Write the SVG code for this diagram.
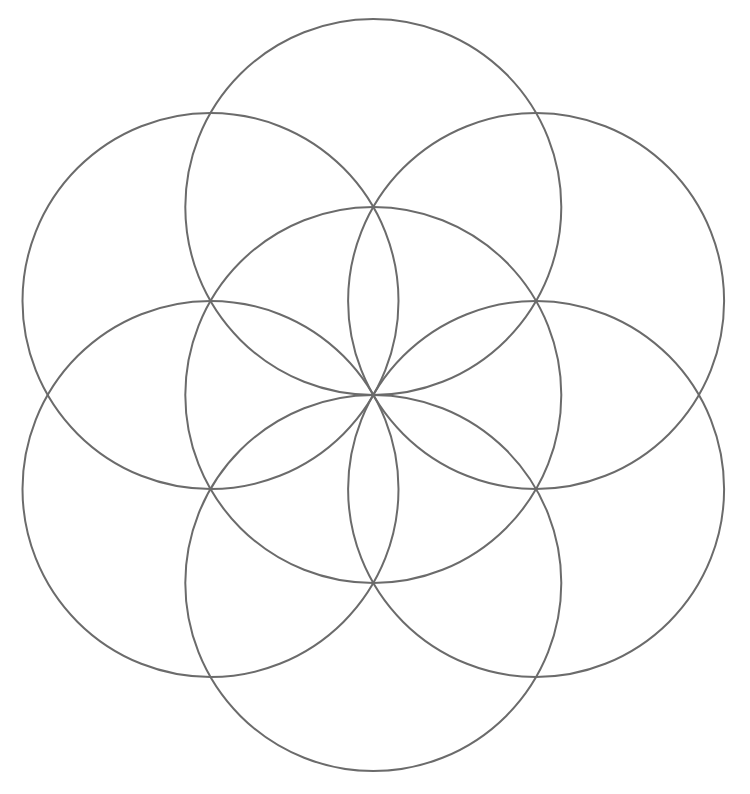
<svg xmlns="http://www.w3.org/2000/svg" width="750" height="794" viewBox="0 0 750 794">
<style>
circle{fill:none;stroke:#6b6b6b;stroke-width:2}
</style>
<rect width="750" height="794" fill="#fff"/>
<g id="center"><circle cx="373.3" cy="395" r="188"/></g>
<g id="top"><circle cx="373.3" cy="207" r="188"/></g>
<g id="bottom"><circle cx="373.3" cy="583" r="188"/></g>
<g id="upper-right"><circle cx="536.1" cy="301" r="188"/></g>
<g id="lower-right"><circle cx="536.1" cy="489" r="188"/></g>
<g id="upper-left"><circle cx="210.5" cy="301" r="188"/></g>
<g id="lower-left"><circle cx="210.5" cy="489" r="188"/></g>
</svg>
